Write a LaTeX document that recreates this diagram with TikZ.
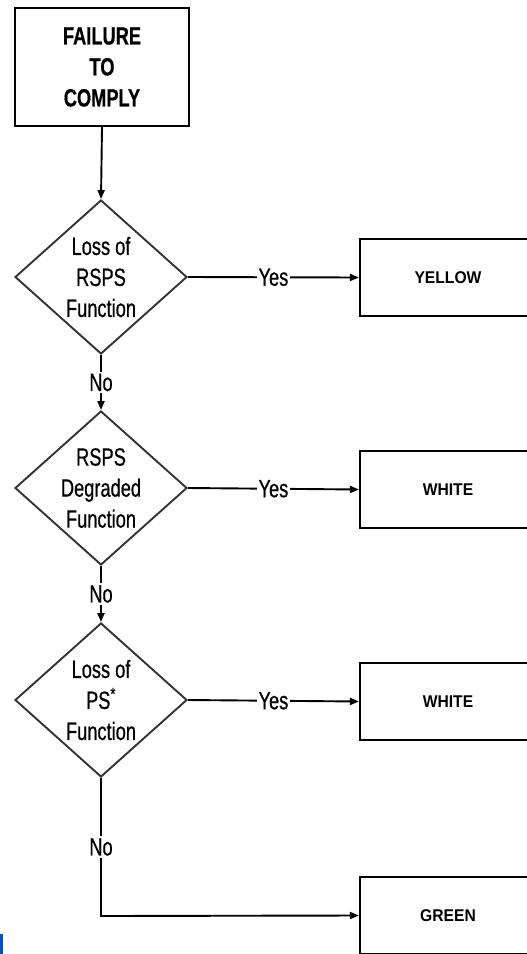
\documentclass[tikz,border=0pt]{standalone}
\usepackage{fontspec}
\setmainfont{Liberation Sans}
\newfontfamily\narrowfont[FakeStretch=0.73,FakeBold=0.6]{Liberation Sans}
\newfontfamily\boxfont[FakeStretch=0.92]{Liberation Sans}
\usetikzlibrary{shapes.geometric,arrows.meta}
\begin{document}
\begin{tikzpicture}[x=1pt,y=-1pt,
  lbl/.style={font=\narrowfont\fontsize{25}{31}\selectfont, align=center, inner sep=1pt},
  topbox/.style={draw, line width=2.2pt, minimum width=174pt, minimum height=118pt,
    font=\narrowfont\bfseries\fontsize{25}{31}\selectfont, align=center},
  decision/.style={diamond, draw=black!80, line width=1.9pt, minimum width=172pt,
    minimum height=154pt, inner sep=0pt},
  outbox/.style={draw, line width=2.2pt, minimum width=176pt, minimum height=77pt,
    font=\boxfont\bfseries\fontsize{17}{18}\selectfont},
  flow/.style={line width=1.9pt, -{Triangle[length=9pt,width=7pt]}},
  yn/.style={lbl, fill=white, inner sep=2pt}
]
\useasboundingbox (0,0) rectangle (527,954);

\node[topbox] (start) at (102,67) {FAILURE\\TO\\COMPLY};

\node[decision, label={[lbl]center:{Loss of\\RSPS\\Function}}] (d1) at (101,277) {};
\node[decision, label={[lbl]center:{RSPS\\Degraded\\Function}}] (d2) at (101,488) {};
\node[decision, label={[lbl]center:{Loss of\\PS\textsuperscript{*}\\Function}}] (d3) at (101,700) {};

\node[outbox] (yellow) at (448,277.5) {YELLOW};
\node[outbox] (white1) at (448,489.5) {WHITE};
\node[outbox] (white2) at (448,701.5) {WHITE};
\node[outbox] (green) at (448,915.5) {GREEN};

\coordinate (corner) at (101,916);

\draw[flow] (start.south) -- (d1.north);
\draw[flow] (d1.east) -- node[yn]{Yes} (yellow.west);
\draw[flow] (d1.south) -- node[yn]{No} (d2.north);
\draw[flow] (d2.east) -- node[yn]{Yes} (white1.west);
\draw[flow] (d2.south) -- node[yn]{No} (d3.north);
\draw[flow] (d3.east) -- node[yn]{Yes} (white2.west);
\draw[flow] (d3.south) -- node[yn, pos=0.5]{No} (corner) -- (green.west);

\fill[blue!60!cyan!80!black] (0,934) rectangle (3,954);
\end{tikzpicture}
\end{document}
